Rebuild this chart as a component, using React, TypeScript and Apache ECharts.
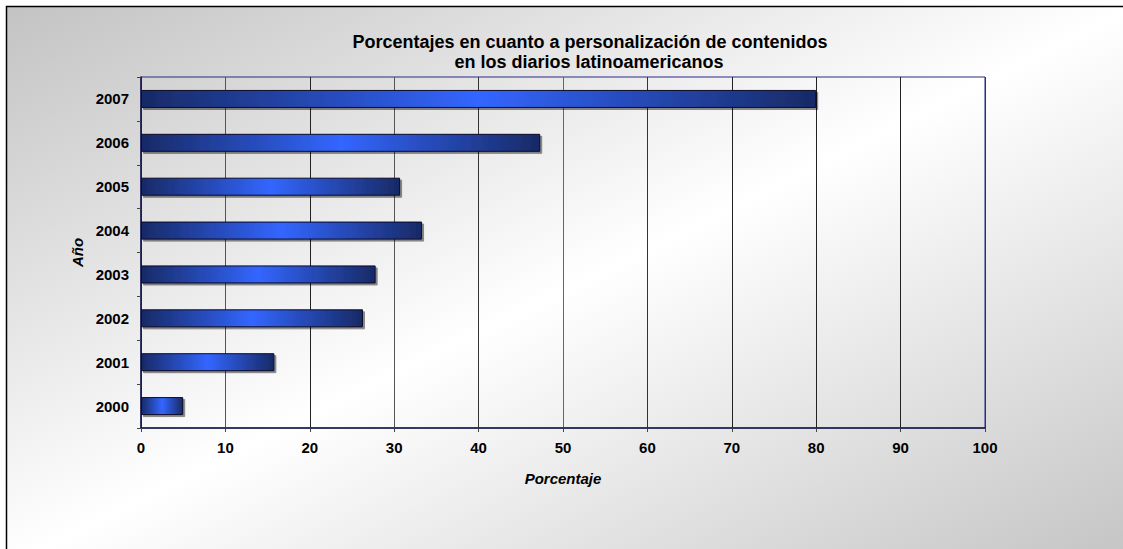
import React, { useEffect, useRef } from "react";
import * as echarts from "echarts";

const years = ["2000", "2001", "2002", "2003", "2004", "2005", "2006", "2007"];
const percentages = [5.0, 15.8, 26.3, 27.8, 33.3, 30.7, 47.3, 80.0];
const titleLines = [
  "Porcentajes en cuanto a personalización de contenidos",
  "en los diarios latinoamericanos",
];
const xAxisName = "Porcentaje";
const yAxisName = "Año";

const FONT = "'Liberation Sans', Arial, sans-serif";

export default function App() {
  const ref = useRef<HTMLDivElement>(null);

  useEffect(() => {
    if (!ref.current) return;
    const chart = echarts.init(ref.current, undefined, { renderer: "svg" });
    const gridColors = [
      "#333", "#555", "#222", "#555", "#333", "#666", "#333", "#222", "#222", "#222", "#2a2a8a",
    ];
    chart.setOption({
      animation: false,
      backgroundColor: "#ffffff",
      graphic: [
        {
          type: "rect",
          z: -10,
          silent: true,
          shape: { x: 6.5, y: 6.5, width: 1130, height: 560 },
          style: {
            fill: {
              type: "linear",
              x: 0,
              y: 0,
              x2: 1,
              y2: 1,
              colorStops: [
                { offset: 0, color: "#c3c3c3" },
                { offset: 0.5, color: "#ffffff" },
                { offset: 1, color: "#c3c3c3" },
              ],
            },
            stroke: "#000",
            lineWidth: 1.5,
          },
        },
        {
          type: "text",
          silent: true,
          x: 590,
          y: 41.5,
          style: {
            text: titleLines[0],
            fontFamily: FONT,
            fontSize: 18,
            fontWeight: "bold",
            fill: "#000",
            align: "center",
            verticalAlign: "middle",
          },
        },
        {
          type: "text",
          silent: true,
          x: 589,
          y: 62,
          style: {
            text: titleLines[1],
            fontFamily: FONT,
            fontSize: 18,
            fontWeight: "bold",
            fill: "#000",
            align: "center",
            verticalAlign: "middle",
          },
        },
      ],
      grid: {
        left: 141,
        top: 77,
        right: 138,
        bottom: 121,
        show: true,
        borderColor: "#2a2a8a",
        borderWidth: 1,
        backgroundColor: "transparent",
      },
      xAxis: {
        type: "value",
        min: 0,
        max: 100,
        interval: 10,
        name: xAxisName,
        nameLocation: "middle",
        nameGap: 43,
        nameTextStyle: {
          fontFamily: FONT,
          fontSize: 15,
          fontWeight: "bold",
          fontStyle: "italic",
          color: "#000",
        },
        axisLine: { show: true, lineStyle: { color: "#1a1a4a", width: 1.5 } },
        axisTick: { show: true, length: 4, lineStyle: { color: "#444" } },
        axisLabel: {
          margin: 12,
          fontFamily: FONT,
          fontSize: 15,
          fontWeight: "bold",
          color: "#000",
        },
        splitLine: { show: true, lineStyle: { color: gridColors, width: 1 } },
      },
      yAxis: {
        type: "category",
        data: years,
        name: yAxisName,
        nameLocation: "middle",
        nameGap: 54,
        nameRotate: 90,
        nameTextStyle: {
          fontFamily: FONT,
          fontSize: 15,
          fontWeight: "bold",
          fontStyle: "italic",
          color: "#000",
        },
        axisLine: { show: true, lineStyle: { color: "#1a1a4a", width: 1.5 } },
        axisTick: { show: true, length: 4, lineStyle: { color: "#444" } },
        axisLabel: {
          margin: 12,
          fontFamily: FONT,
          fontSize: 15,
          fontWeight: "bold",
          color: "#000",
        },
        splitLine: { show: false },
      },
      series: [
        {
          type: "bar",
          data: percentages,
          barWidth: 18,
          itemStyle: {
            color: {
              type: "linear",
              x: 0,
              y: 0,
              x2: 1,
              y2: 0,
              colorStops: [
                { offset: 0, color: "#182a66" },
                { offset: 0.5, color: "#3366ff" },
                { offset: 1, color: "#182a66" },
              ],
            },
            borderColor: "#0a0a28",
            borderWidth: 1,
            shadowColor: "rgba(0,0,0,0.45)",
            shadowOffsetX: 2,
            shadowOffsetY: 2,
            shadowBlur: 1,
          },
        },
      ],
    });
    return () => chart.dispose();
  }, []);

  return (
    <div
      ref={ref}
      style={{ position: "fixed", left: 0, top: 0, width: 1123, height: 549 }}
    />
  );
}
